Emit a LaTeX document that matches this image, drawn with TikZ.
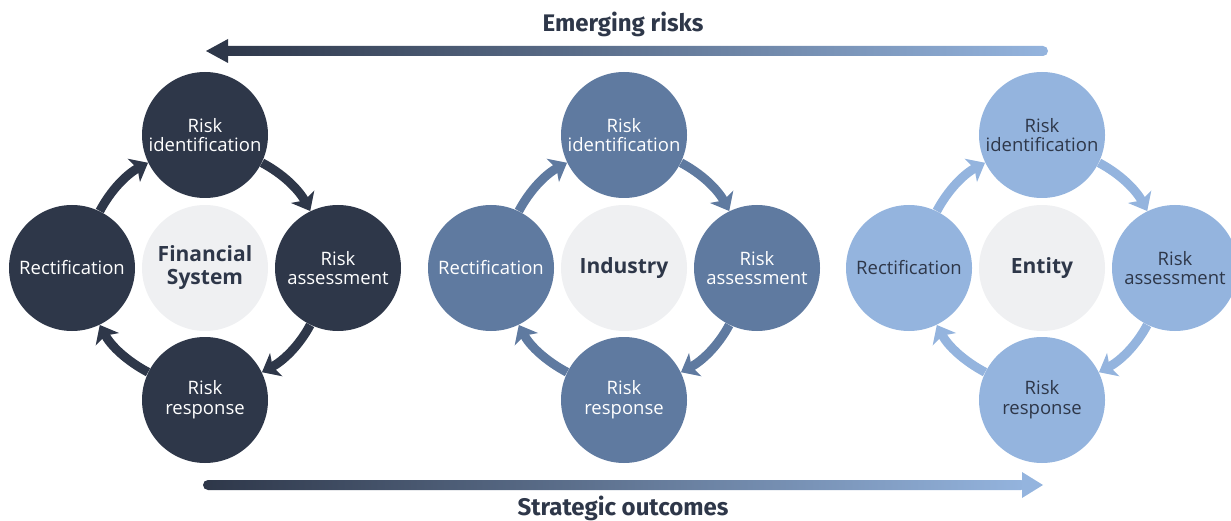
\documentclass[tikz,border=0pt]{standalone}
\usepackage{fontspec}
\setmainfont{Open Sans}
\newfontfamily\titlefont{Fira Sans}
\usetikzlibrary{arrows.meta}

\definecolor{navy}{HTML}{2E3749}
\definecolor{slate}{HTML}{5F7AA0}
\definecolor{sky}{HTML}{94B4DE}
\definecolor{mist}{HTML}{EFF0F2}

\begin{document}
\begin{tikzpicture}[x = 0.5pt, y = 0.5pt,
	stage/.style = {circle, minimum size = 63pt, inner sep = 0pt, align = center,
		font = \fontsize{9.25}{9.9}\selectfont},
	hub/.style = {circle, fill = mist, minimum size = 63pt, inner sep = 0pt, align = center,
		text = navy, font = \fontsize{10.5}{11.5}\selectfont\bfseries},
	loop/.style = {line width = 4.5pt, looseness = 0.9,
		-{Stealth[length = 8pt, width = 13pt, inset = 2pt]}},
	banner/.style = {text = navy, font = \titlefont\bfseries\fontsize{12}{14}\selectfont}]
	\useasboundingbox (0,0) rectangle (1231,520);
	% three cycles: financial system, industry, entity
	\foreach \k/\cx/\col/\txt/\lab in {1/205/navy/white/{Financial\\System},
			2/624/slate/white/Industry, 3/1042/sky/navy/Entity}{
		\node [hub] (c\k) at (\cx,252) {\lab};
		\node [stage, fill = \col, text = \txt] (id\k) at (\cx,385) {Risk\\identification};
		\node [stage, fill = \col, text = \txt] (as\k) at (\cx+133,252) {Risk\\assessment};
		\node [stage, fill = \col, text = \txt] (rs\k) at (\cx,120) {Risk\\response};
		\node [stage, fill = \col, text = \txt] (re\k) at (\cx-133,252) {Rectification};
		\draw [loop, \col] (id\k.-26) to [out = -28, in = 118] (as\k.116);
		\draw [loop, \col] (as\k.-116) to [out = -118, in = 28] (rs\k.26);
		\draw [loop, \col] (rs\k.154) to [out = 152, in = -62] (re\k.-64);
		\draw [loop, \col] (re\k.64) to [out = 62, in = -152] (id\k.-154);
	}
	% emerging risks, right to left
	\shade [left color = navy, right color = sky, rounded corners = 2.5pt] (222,464) rectangle (1048,474);
	\fill [navy] (206,469) -- (228,481) -- (228,457) -- cycle;
	\node [banner] (risks) at (623,496) {Emerging risks};
	% strategic outcomes, left to right
	\shade [left color = navy, right color = sky, rounded corners = 2.5pt] (203,30) rectangle (1026,40);
	\fill [sky] (1043,35) -- (1022,48) -- (1022,22) -- cycle;
	\node [banner, anchor = base] (outcomes) at (623,5) {Strategic outcomes};
\end{tikzpicture}
\end{document}
